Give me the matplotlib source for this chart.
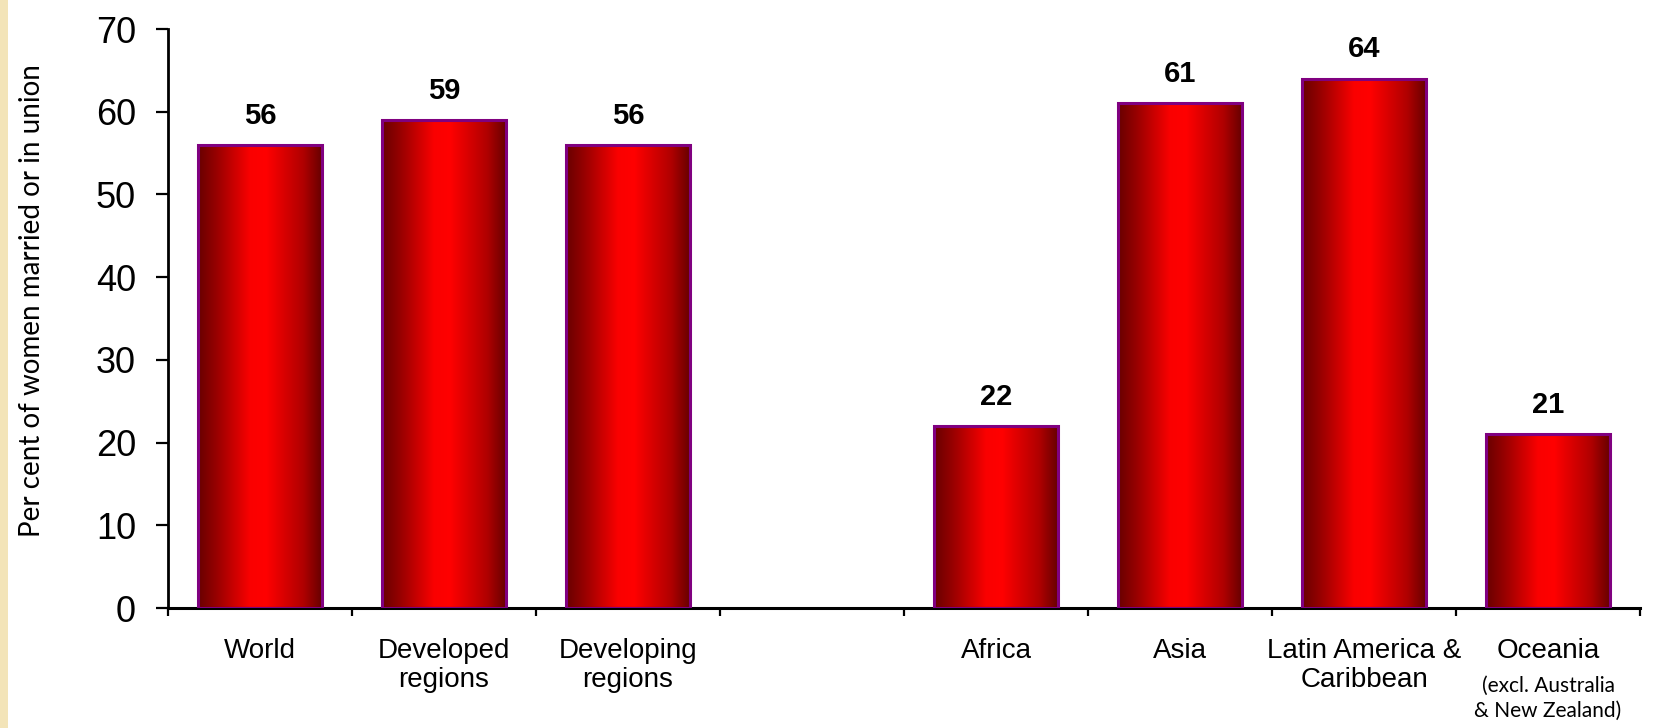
import numpy as np
import matplotlib
matplotlib.use("Agg")
import matplotlib.pyplot as plt
from matplotlib.colors import LinearSegmentedColormap
from matplotlib.patches import Rectangle
from matplotlib.transforms import blended_transform_factory

# ---- data ----
categories = ["World", "Developed\nregions", "Developing\nregions", "",
              "Africa", "Asia", "Latin America &\nCaribbean", "Oceania"]
values = [56, 59, 56, None, 22, 61, 64, 21]
oceania_note = "(excl. Australia\n& New Zealand)"
y_ticks = [0, 10, 20, 30, 40, 50, 60, 70]
y_label = "Per cent of women married or in union"

W, H = 1660, 728
fig = plt.figure(figsize=(W / 100, H / 100), dpi=100)
fig.patch.set_facecolor("white")

# cream strip at the left edge
fig.patches.append(Rectangle((0, 0), 8 / W, 1, transform=fig.transFigure,
                             facecolor="#F3E4B8", edgecolor="none", zorder=0))

ax = fig.add_axes([168 / W, 1 - 608 / H, (1640 - 168) / W, (608 - 29) / H])
ax.set_facecolor("white")

cmap = LinearSegmentedColormap.from_list(
    "barred",
    [(0.0, "#680000"), (0.15, "#980000"), (0.42, "#fa0000"),
     (0.55, "#ff0000"), (0.85, "#b00000"), (1.0, "#680000")])
grad = np.linspace(0, 1, 256).reshape(1, -1)

bw = 0.67
for i, v in enumerate(values):
    if v is None:
        continue
    xc = i + 0.5
    x0, x1 = xc - bw / 2, xc + bw / 2
    ax.imshow(grad, extent=(x0, x1, 0, v), aspect="auto", cmap=cmap,
              zorder=2, interpolation="bilinear")
    ax.bar(xc, v, width=bw, fill=False, edgecolor="#800080",
           linewidth=2.2, zorder=3)
    ax.annotate(f"{v}", (xc, v), xytext=(0, 11), textcoords="offset points",
                ha="center", va="bottom", fontsize=21, fontweight="bold",
                family="Liberation Sans", color="black")

ax.set_xlim(0, len(categories))
ax.set_ylim(0, 70)

for s in ["top", "right"]:
    ax.spines[s].set_visible(False)
ax.spines["left"].set_linewidth(2.0)
ax.spines["bottom"].set_linewidth(2.2)

ax.set_yticks(y_ticks)
ax.set_yticklabels([str(t) for t in y_ticks], fontsize=26,
                   family="Liberation Sans")
ax.tick_params(axis="y", length=9, width=1.6, pad=14)
ax.set_xticks(np.arange(0, len(categories) + 1))
ax.set_xticklabels([])
ax.tick_params(axis="x", length=6, width=1.6)

trans = blended_transform_factory(ax.transData, ax.transAxes)
for i, c in enumerate(categories):
    if not c:
        continue
    ax.text(i + 0.5, -0.052, c, transform=trans, ha="center", va="top",
            fontsize=20, family="Liberation Sans", linespacing=1.15)
    if c == "Oceania":
        ax.text(i + 0.5, -0.118, oceania_note, transform=trans, ha="center",
                va="top", fontsize=15, family="Lato", linespacing=1.3)

fig.text(32 / W, 1 - 301 / H, y_label, rotation=90, ha="center", va="center",
         fontsize=20, family="Lato")

fig.savefig("out.png", dpi=100)
